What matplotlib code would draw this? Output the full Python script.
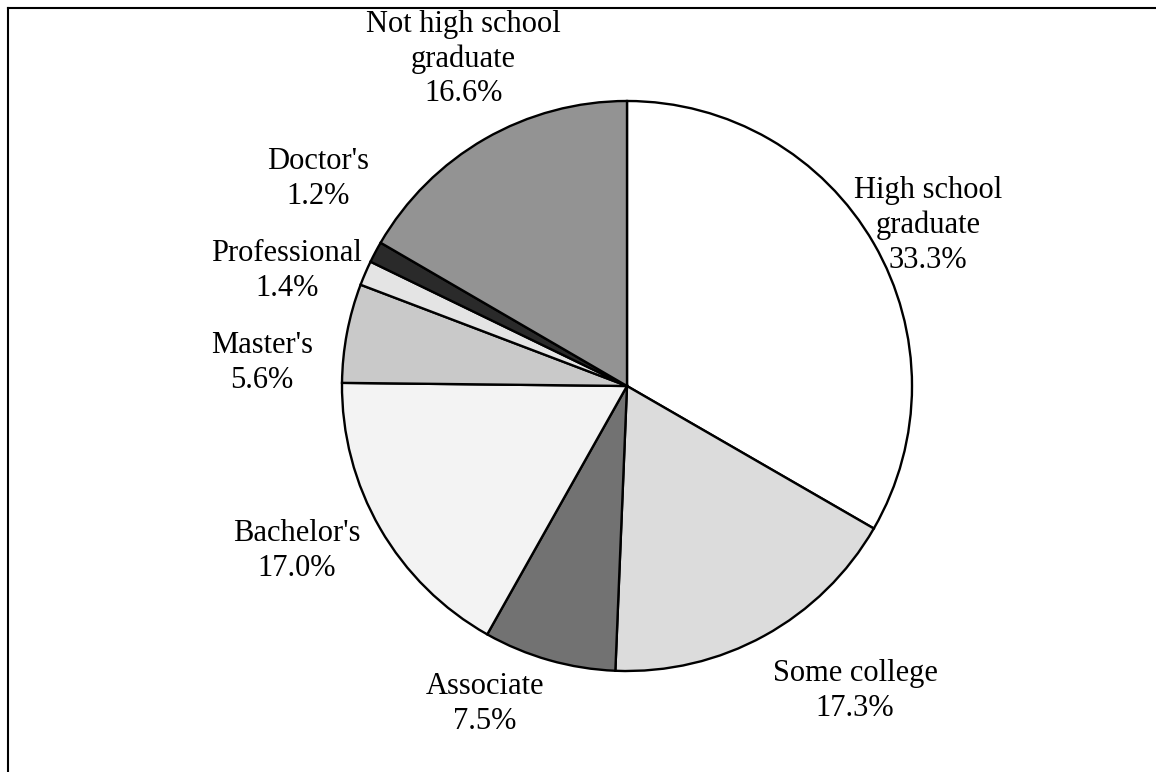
import numpy as np
import matplotlib
matplotlib.use("Agg")
import matplotlib.pyplot as plt
from matplotlib.lines import Line2D

labels = ["High school\ngraduate", "Some college", "Associate", "Bachelor's",
          "Master's", "Professional", "Doctor's", "Not high school\ngraduate"]
shares = [33.3, 17.3, 7.5, 17.0, 5.6, 1.4, 1.2, 16.6]
fills = ["#ffffff", "#dcdcdc", "#727272", "#f3f3f3",
         "#c9c9c9", "#e4e4e4", "#2a2a2a", "#939393"]

# label centres, in units of the pie radius
lab_x = [1.056, 0.80, -0.498, -1.158, -1.281, -1.193, -1.084, -0.575]
lab_y = [0.564, -1.071, -1.116, -0.579, 0.080, 0.403, 0.726, 1.147]

plt.rcParams["font.family"] = ["Liberation Serif", "DejaVu Serif"]

fig = plt.figure(figsize=(11.56, 7.72), dpi=100)
ax = fig.add_axes([0, 0, 1, 1])

wedges, _ = ax.pie(shares, colors=fills, startangle=90, counterclock=False,
                   normalize=True,
                   wedgeprops=dict(edgecolor="black", linewidth=1.7))

for lab, v, x, y in zip(labels, shares, lab_x, lab_y):
    ax.text(x, y, f"{lab}\n{v:.1f}%", ha="center", va="center",
            fontsize=22, linespacing=1.25)

# centre at (627, 386) px, radius 285 px
r_px = 285.0
ax.set_xlim(-627 / r_px, (1156 - 627) / r_px)
ax.set_ylim(-(772 - 386) / r_px, 386 / r_px)
ax.set_aspect("auto")
ax.axis("off")

# frame of the chart area (cropped on the right and bottom)
fig.add_artist(Line2D([7.5 / 1156, 7.5 / 1156], [0, 1 - 7.5 / 772],
                      transform=fig.transFigure, color="black", lw=1.5))
fig.add_artist(Line2D([7.5 / 1156, 1], [1 - 7.5 / 772, 1 - 7.5 / 772],
                      transform=fig.transFigure, color="black", lw=1.5))

fig.savefig("out.png", dpi=100)
